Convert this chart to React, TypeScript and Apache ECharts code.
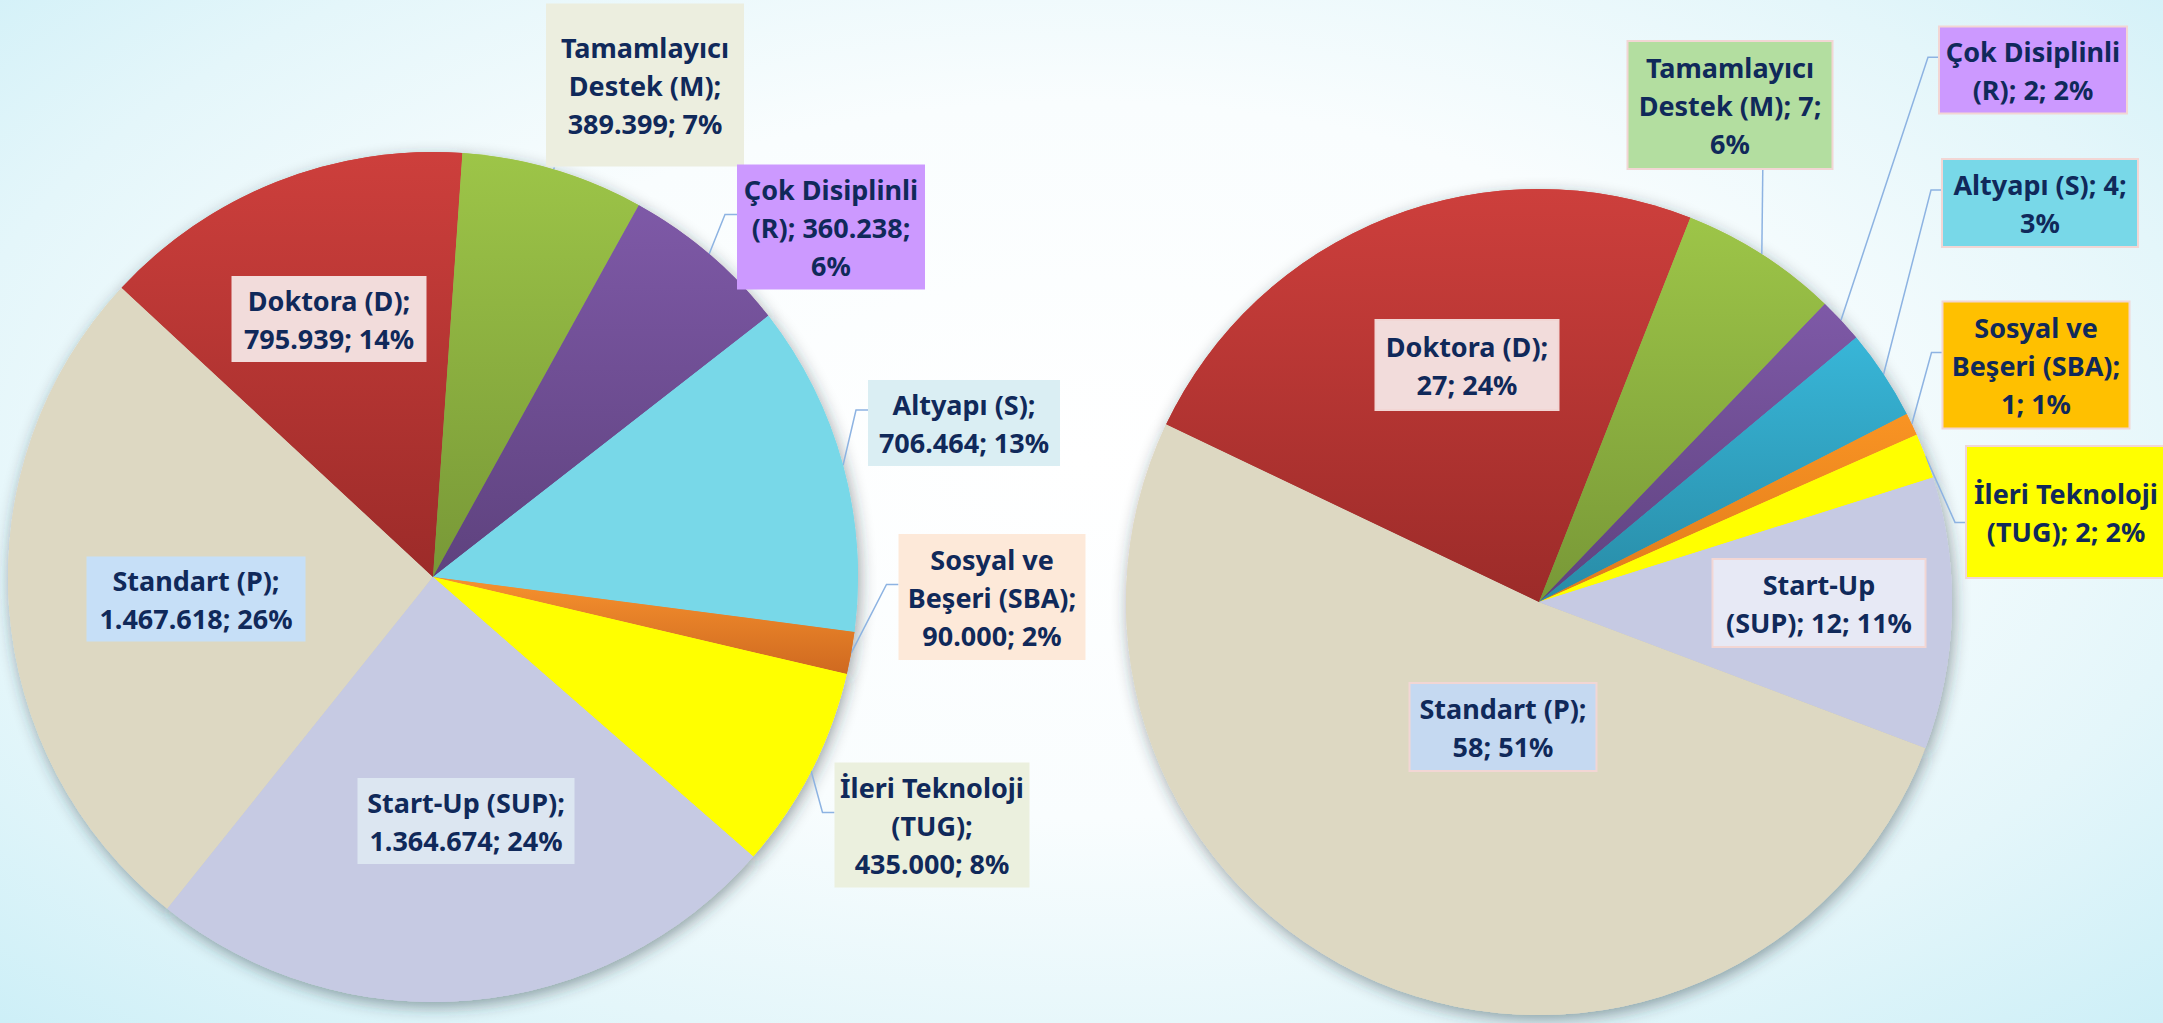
import React, { useEffect, useRef } from "react";
import * as echarts from "echarts";

// ---------- DATA ----------
const categories = [
  "Standart (P)",
  "Doktora (D)",
  "Tamamlayıcı Destek (M)",
  "Çok Disiplinli (R)",
  "Altyapı (S)",
  "Sosyal ve Beşeri (SBA)",
  "İleri Teknoloji (TUG)",
  "Start-Up (SUP)",
];
const budgetValues = [1467618, 795939, 389399, 360238, 706464, 90000, 435000, 1364674];
const budgetPercents = [26, 14, 7, 6, 13, 2, 8, 24];
const projectCounts = [58, 27, 7, 2, 4, 1, 2, 12];
const projectPercents = [51, 24, 6, 2, 3, 1, 2, 11];

// words per label line
const budgetWrap = [[2, 2], [2, 2], [1, 2, 2], [2, 2, 1], [2, 2], [2, 2, 2], [2, 1, 2], [2, 2]];
const projectWrap = [[2, 2], [2, 2], [1, 3, 1], [2, 3], [3, 1], [2, 2, 2], [2, 3], [1, 3]];

// ---------- STYLE / LAYOUT ----------
const FONT = "'Noto Sans', 'Open Sans', sans-serif";
const TEXT_COLOR = "#10295A";
const LEADER = "#8DB3E2";
const LINE_H = 38;

const grad = (a: string, b: string) => ({
  type: "linear", x: 0, y: 0, x2: 0, y2: 1,
  colorStops: [{ offset: 0, color: a }, { offset: 1, color: b }],
});

const leftColors = [
  "#DDD8C2",
  grad("#CD3F3C", "#9C2B29"),
  grad("#9DC548", "#789837"),
  grad("#7E59A7", "#5E427E"),
  "#78D8E8",
  grad("#F7922E", "#CF6920"),
  "#FFFF00",
  "#C6CAE3",
];
const rightColors = [
  "#DDD8C2",
  grad("#CD3F3C", "#9C2B29"),
  grad("#9DC548", "#789837"),
  grad("#7E59A7", "#5E427E"),
  grad("#38B6D8", "#288BA6"),
  grad("#F99423", "#E07A1C"),
  "#FFFF00",
  "#C6CAE3",
];

// label boxes: centre, size, background, leader attach (fraction of height / "below")
const leftLayout: any[] = [
  { x: 196, y: 599, w: 219, h: 85, bg: "#C6DFF7" },
  { x: 329, y: 319, w: 195, h: 86, bg: "#F2DCDB" },
  { x: 645, y: 85, w: 198, h: 163, bg: "#ECEEDF", lead: "below" },
  { x: 831, y: 227, w: 188, h: 125, bg: "#CC99FF", lead: 0.4 },
  { x: 964, y: 423, w: 192, h: 86, bg: "#DAEEF3", lead: 0.35 },
  { x: 992, y: 597, w: 187, h: 126, bg: "#FDE9D9", lead: 0.4 },
  { x: 932, y: 825, w: 195, h: 125, bg: "#EBF0DE", lead: 0.4 },
  { x: 466, y: 821, w: 217, h: 86, bg: "#DCE6F1" },
];
const rightLayout: any[] = [
  { x: 1503, y: 727, w: 185, h: 86, bg: "#C5D9F1" },
  { x: 1467, y: 365, w: 181, h: 88, bg: "#F2DCDB" },
  { x: 1730, y: 105, w: 203, h: 126, bg: "#B3DEA0", lead: "below" },
  { x: 2033, y: 70, w: 186, h: 85, bg: "#CC99FF", lead: 0.35 },
  { x: 2040, y: 203, w: 194, h: 86, bg: "#78D8E8", lead: 0.35 },
  { x: 2036, y: 365, w: 185, h: 125, bg: "#FFC000", lead: 0.4 },
  { x: 2066, y: 512, w: 198, h: 130, bg: "#FFFF00", lead: 0.58 },
  { x: 1819, y: 603, w: 211, h: 86, bg: "#E7E9F5" },
];

const fmt = (v: number) => String(v).replace(/\B(?=(\d{3})+(?!\d))/g, ".");

function wrapText(full: string, wrap: number[]) {
  const toks = full.split(" ");
  let k = 0;
  return wrap
    .map((n) => {
      const s = toks.slice(k, k + n).join(" ");
      k += n;
      return s;
    })
    .join("\n");
}

function buildPie(
  values: number[],
  percents: number[],
  wraps: number[][],
  layout: any[],
  colors: any[],
  center: number[],
  radius: number,
  startAngle: number,
  bordered: boolean
) {
  const data = values.map((v, i) => {
    const L = layout[i];
    const text = wrapText(`${categories[i]}; ${fmt(v)}; ${percents[i]}%`, wraps[i]);
    const nLines = wraps[i].length;
    const pv = Math.max(0, (L.h - nLines * LINE_H) / 2);
    const outside = L.lead != null;
    return {
      name: categories[i],
      value: v,
      itemStyle: { color: colors[i] },
      label: {
        show: true,
        position: outside ? "outside" : "inside",
        formatter: text,
        color: TEXT_COLOR,
        fontFamily: FONT,
        fontWeight: "bold",
        fontSize: 27,
        lineHeight: LINE_H,
        align: "center",
        backgroundColor: L.bg,
        borderColor: bordered ? "#F2D6D4" : "transparent",
        borderWidth: bordered ? 2 : 0,
        width: L.w,
        padding: [pv, 0, pv, 0],
      },
      labelLine: { show: outside },
    };
  });

  const shadow = {
    type: "pie",
    center,
    radius,
    startAngle,
    clockwise: true,
    silent: true,
    z: 1,
    label: { show: false },
    labelLine: { show: false },
    emphasis: { disabled: true },
    itemStyle: {
      shadowBlur: 16,
      shadowColor: "rgba(40,50,60,0.45)",
      shadowOffsetX: 2,
      shadowOffsetY: 5,
      borderWidth: 0,
    },
    data: values.map((v, i) => ({ name: categories[i], value: v, itemStyle: { color: colors[i] } })),
  };

  const main = {
    type: "pie",
    center,
    radius,
    startAngle,
    clockwise: true,
    z: 2,
    avoidLabelOverlap: false,
    emphasis: { disabled: true },
    itemStyle: { borderWidth: 0 },
    labelLine: { show: true, length: 10, length2: 10, smooth: false, lineStyle: { color: LEADER, width: 1.5 } },
    data,
    labelLayout: (params: any) => {
      const L = layout[params.dataIndex];
      const res: any = { x: L.x, y: L.y, align: "center", verticalAlign: "middle" };
      if (L.lead != null && params.labelLinePoints && params.labelLinePoints.length) {
        const p0 = params.labelLinePoints[0];
        const left = L.x - L.w / 2;
        const top = L.y - L.h / 2;
        const bottom = L.y + L.h / 2;
        if (L.lead === "below") {
          res.labelLinePoints = [p0, [p0[0] + 1, bottom + 1], [p0[0] + 1, bottom + 1]];
        } else {
          const ly = top + L.lead * L.h;
          res.labelLinePoints = [p0, [left - 12, ly], [left, ly]];
        }
      }
      return res;
    },
  };
  return [shadow, main];
}

export default function App() {
  const ref = useRef<HTMLDivElement>(null);
  useEffect(() => {
    document.body.style.margin = "0";
    document.body.style.overflow = "hidden";
    if (!ref.current) return;
    const chart = echarts.init(ref.current, null, { renderer: "svg" });
    chart.setOption({
      animation: false,
      backgroundColor: "transparent",
      series: [
        ...buildPie(budgetValues, budgetPercents, budgetWrap, leftLayout, leftColors, [433, 577], 425, 90 - 218.7, false),
        ...buildPie(projectCounts, projectPercents, projectWrap, rightLayout, rightColors, [1539, 602], 413, 90 - 110.7, true),
      ],
    });
    return () => chart.dispose();
  }, []);
  return (
    <div
      style={{
        width: 2163,
        height: 1023,
        background:
          "radial-gradient(ellipse at 50% 45%, #ffffff 0%, #f9fdfe 45%, #e4f6fa 75%, #cdeff7 100%)",
      }}
    >
      <div ref={ref} style={{ width: 2163, height: 1023 }} />
    </div>
  );
}
